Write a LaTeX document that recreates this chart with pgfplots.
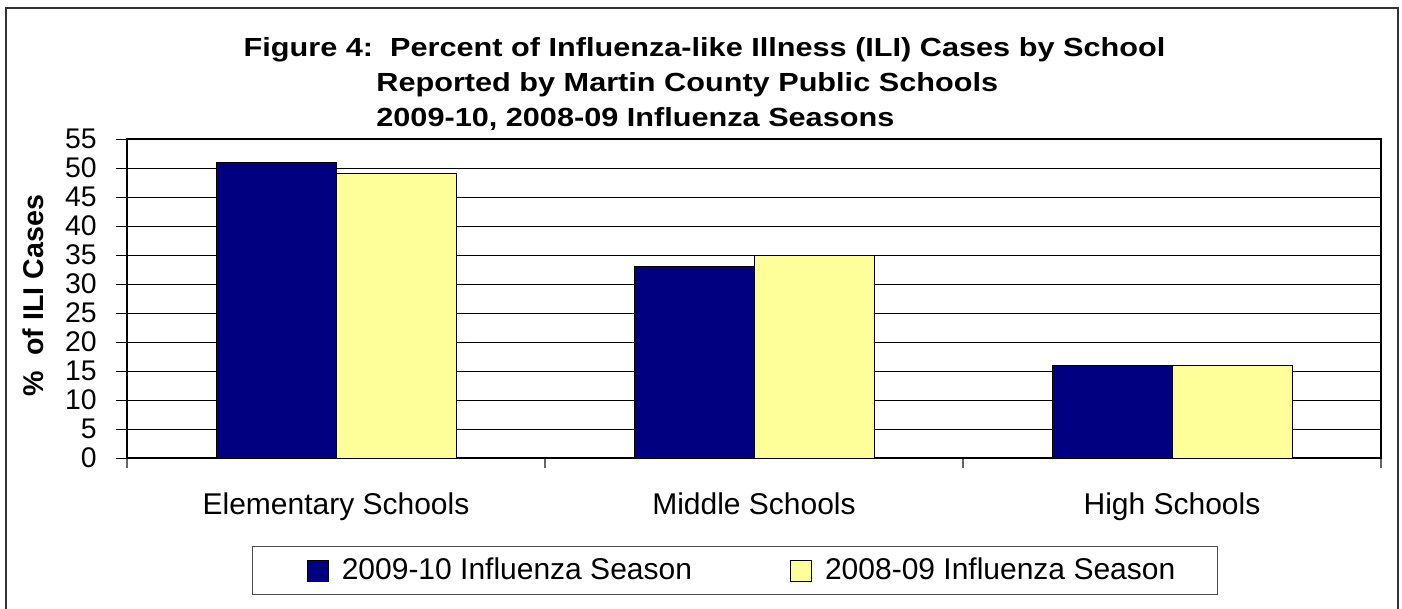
\documentclass[border=0pt]{standalone}
\usepackage{pgfplots}
\pgfplotsset{compat=1.18}
\usepackage{fontspec}
\setmainfont{Liberation Sans}
\newfontfamily\titlefont{Liberation Sans}[FakeStretch=1.17]
\definecolor{navyb}{HTML}{000080}
\definecolor{paley}{HTML}{FFFF99}
\begin{document}
\begin{tikzpicture}
\useasboundingbox (0pt,0pt) rectangle (701pt,-304.5pt);
\draw[line width=0.8pt, black!80] (3pt,-306pt) -- (3pt,-4pt) -- (699pt,-4pt) -- (699pt,-306pt);
\node[anchor=base, inner sep=0pt, font=\titlefont\fontsize{13.1}{15}\selectfont\bfseries] at (352.25pt,-28.5pt) {Figure 4:\ \ Percent of Influenza-like Illness (ILI) Cases by School};
\node[anchor=base west, inner sep=0pt, font=\titlefont\fontsize{13.1}{15}\selectfont\bfseries] at (188pt,-46pt) {Reported by Martin County Public Schools};
\node[anchor=base west, inner sep=0pt, font=\titlefont\fontsize{13.1}{15}\selectfont\bfseries] at (188pt,-63.5pt) {2009-10, 2008-09 Influenza Seasons};
\begin{axis}[
  at={(63.5pt,-229pt)}, anchor=south west,
  scale only axis, width=627pt, height=159.5pt,
  ybar=0pt, bar width=60pt,
  xmin=-0.5, xmax=2.5, ymin=0, ymax=55,
  xtick={0,1,2},
  xticklabels={Elementary Schools, Middle Schools, High Schools},
  minor xtick={-0.5,0.5,1.5,2.5},
  ytick={0,5,...,55},
  tick align=outside,
  major tick length=5.5pt, minor tick length=5pt,
  major x tick style={draw=none},
  minor x tick style={black!60, line width=0.6pt},
  major y tick style={black, line width=0.5pt},
  xtick pos=bottom, ytick pos=left,
  ymajorgrids, grid style={black, line width=0.45pt},
  axis line style={line width=1pt},
  /pgf/number format/assume math mode=true,
  xticklabel style={font=\fontsize{15}{18}\selectfont, anchor=base, inner sep=0pt, yshift=-22.5pt},
  yticklabel style={font=\fontsize{14.2}{16}\selectfont, anchor=east, inner sep=0pt, xshift=-9.5pt},
  ylabel={\%\ \ of ILI Cases},
  ylabel style={font=\fontsize{14.3}{16}\selectfont\bfseries, at={(axis description cs:-0.075,0.508)}, anchor=center},
  legend columns=2,
  legend style={at={(0.4849,-0.3527)}, anchor=center, draw=black!70, line width=0.6pt,
    font=\fontsize{15}{18}\selectfont, inner xsep=19.25pt, inner ysep=4pt,
    /tikz/every odd column/.append style={column sep=0pt},
    /tikz/every even column/.append style={column sep=39pt}},
  legend image code/.code={\path (0pt,0pt); \draw[#1, line width=0.5pt] (8pt,-5.25pt) rectangle (18.5pt,5.25pt); \path (23pt,0pt);},
]
\addplot[fill=navyb, draw=black, line width=0.5pt] coordinates {(0,51) (1,33) (2,16)};
\addplot[fill=paley, draw=black, line width=0.5pt] coordinates {(0,49) (1,35) (2,16)};
\legend{2009-10 Influenza Season, 2008-09 Influenza Season}
\end{axis}
\end{tikzpicture}
\end{document}
